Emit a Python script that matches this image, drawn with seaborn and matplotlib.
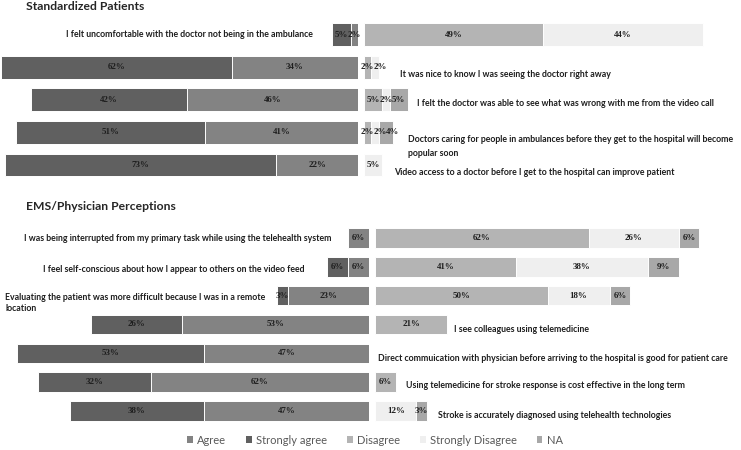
import matplotlib
matplotlib.use("Agg")
import matplotlib.pyplot as plt
from matplotlib.patches import Patch
import seaborn as sns
import pandas as pd

sns.set_theme(style="white")
plt.rcParams["font.family"] = ["Lato", "DejaVu Sans"]

# ---------------- data ----------------
sp_statements = [
    "I felt uncomfortable with the doctor not being in the ambulance",
    "It was nice to know I was seeing the doctor right away",
    "I felt the doctor was able to see what was wrong with me from the video call",
    "Doctors caring for people in ambulances before they get to the hospital will become\npopular soon",
    "Video access to a doctor before I get to the hospital can improve patient",
]
sp_strongly_agree = [5, 62, 42, 51, 73]
sp_agree = [2, 34, 46, 41, 22]
sp_disagree = [49, 2, 5, 2, 0]
sp_strongly_disagree = [44, 2, 2, 2, 5]
sp_na = [0, 0, 5, 4, 0]

ems_statements = [
    "I was being interrupted from my primary task while using the telehealth system",
    "I feel self-conscious about how I appear to others on the video feed",
    "Evaluating the patient was more difficult because I was in a remote\nlocation",
    "I see colleagues using telemedicine",
    "Direct commuication with physician before arriving to the hospital is good for patient care",
    "Using telemedicine for stroke response is cost effective in the long term",
    "Stroke is accurately diagnosed using telehealth technologies",
]
ems_strongly_agree = [0, 6, 3, 26, 53, 32, 38]
ems_agree = [6, 6, 23, 53, 47, 62, 47]
ems_disagree = [62, 41, 50, 21, 0, 6, 0]
ems_strongly_disagree = [26, 38, 18, 0, 0, 0, 12]
ems_na = [6, 9, 6, 0, 0, 0, 3]

legend_labels = ["Agree", "Strongly agree", "Disagree", "Strongly Disagree", "NA"]

# ---------------- style ----------------
C_SA = "#606060"
C_A = "#838383"
C_D = "#b4b4b4"
C_SD = "#efefef"
C_NA = "#a8a8a8"
TXT = "#1e1e1e"

W, H = 741, 450
fig = plt.figure(figsize=(W / 100, H / 100), dpi=100)


def ax_px(x0, x1, y0, y1):
    return fig.add_axes([x0 / W, 1 - y1 / H, (x1 - x0) / W, (y1 - y0) / H])


def draw_panel(statements, sa, a, d, sd, na, box, sides, gaps, dys, bar_w, lsp):
    (lx0, lx1, rx0, rx1, y0, y1, lscale, rscale) = box
    axl = ax_px(lx0, lx1, y0, y1)
    axr = ax_px(rx0, rx1, y0, y1)
    df = pd.DataFrame({"statement": statements, "SA": sa, "A": a,
                       "D": d, "SD": sd, "NA": na})
    df["left_tot"] = df["SA"] + df["A"]
    df["r_d_sd"] = df["D"] + df["SD"]
    df["right_tot"] = df["D"] + df["SD"] + df["NA"]
    kw = dict(y="statement", orient="h", errorbar=None, width=bar_w,
              edgecolor="white", linewidth=0.7, order=statements)
    sns.barplot(data=df, x="left_tot", color=C_SA, ax=axl, **kw)
    sns.barplot(data=df, x="A", color=C_A, ax=axl, **kw)
    sns.barplot(data=df, x="right_tot", color=C_NA, ax=axr, **kw)
    sns.barplot(data=df, x="r_d_sd", color=C_SD, ax=axr, **kw)
    sns.barplot(data=df, x="D", color=C_D, ax=axr, **kw)
    n = len(statements)
    axl.set_xlim((lx1 - lx0) / lscale, 0)
    axr.set_xlim(0, (rx1 - rx0) / rscale)
    for ax in (axl, axr):
        ax.set_ylim(n - 0.5, -0.5)
        ax.axis("off")
    vfont = dict(family=["Liberation Serif"], fontsize=6.4, fontweight="bold",
                 color=TXT, ha="center", va="center")
    step_l = 13 / lscale
    step_r = 12.5 / rscale
    lfont = dict(family=["Lato", "DejaVu Sans"], fontsize=6.3,
                 fontweight="bold", color=TXT, va="center",
                 linespacing=lsp, multialignment="left")
    for i in range(n):
        # left segments (Agree next to centre, Strongly agree outside)
        ca, csa = a[i] / 2, a[i] + sa[i] / 2
        if a[i] > 0 and sa[i] > 0 and csa - ca < step_l:
            mid = (ca + csa) / 2
            ca, csa = mid - step_l / 2, mid + step_l / 2
        if a[i] > 0:
            axl.text(ca, i, f"{a[i]}%", **vfont)
        if sa[i] > 0:
            axl.text(csa, i, f"{sa[i]}%", **vfont)
        # right segments
        start = 0
        prev = -1e9
        for v in (d[i], sd[i], na[i]):
            if v > 0:
                cx = max(start + v / 2, prev + step_r)
                axr.text(cx, i, f"{v}%", **vfont)
                prev = cx
            start += v
        if sides[i] == "left":
            axl.annotate(statements[i], (sa[i] + a[i], i),
                         xytext=(-gaps[i] * 0.72, -dys[i] * 0.72),
                         textcoords="offset points", ha="right", **lfont)
        else:
            axr.annotate(statements[i], (d[i] + sd[i] + na[i], i),
                         xytext=(gaps[i] * 0.72, -dys[i] * 0.72),
                         textcoords="offset points", ha="left", **lfont)


draw_panel(sp_statements, sp_strongly_agree, sp_agree, sp_disagree,
           sp_strongly_disagree, sp_na,
           (0, 358, 364, 741, 18.2, 181.3, 3.72, 3.65),
           ["left", "right", "right", "right", "right"],
           [19, 21, 9, 15, 12], [0, 7, 4, 14, 8], 0.70, 1.7)

draw_panel(ems_statements, ems_strongly_agree, ems_agree, ems_disagree,
           ems_strongly_disagree, ems_na,
           (0, 369, 375, 741, 223.6, 425.4, 3.52, 3.45),
           ["left", "left", "left", "right", "right", "right", "right"],
           [16, 22, 12, 7, 3, 10, 11], [0, 3, 7, 5, 5, 3, 5], 0.68, 1.3)

tfont = dict(fontsize=8.7, fontweight="bold", color="#262626", va="center", ha="left")
fig.text(26 / W, 1 - 6.5 / H, "Standardized Patients", **tfont)
fig.text(26 / W, 1 - 206 / H, "EMS/Physician Perceptions", **tfont)

handles = [Patch(facecolor=c, edgecolor="none") for c in (C_A, C_SA, C_D, C_SD, C_NA)]
leg = fig.legend(handles, legend_labels, loc="center", ncol=5,
                 bbox_to_anchor=(375 / W, 1 - 440 / H), frameon=False,
                 fontsize=8, handlelength=0.5, handleheight=0.5,
                 handletextpad=0.4, columnspacing=1.8)
for t in leg.get_texts():
    t.set_color("#595959")

fig.savefig("out.png", dpi=100)
